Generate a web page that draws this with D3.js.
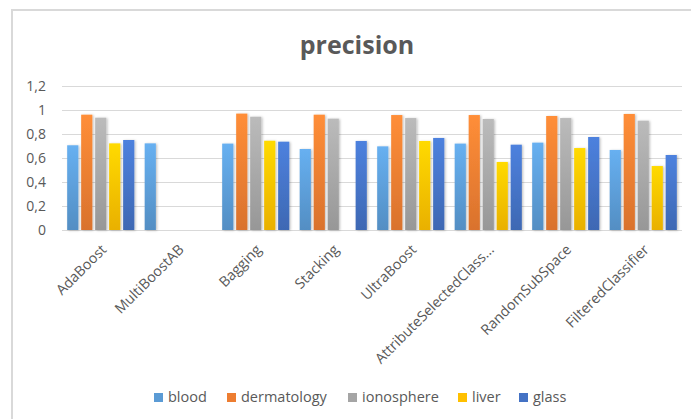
<!DOCTYPE html>
<html><head><meta charset="utf-8">
<script src="https://cdn.jsdelivr.net/npm/d3@7"></script>
<style>html,body{margin:0;padding:0;background:#fff;}svg{display:block;}</style>
</head><body><svg id="c" width="691" height="419"></svg>
<script>
const categories = ["AdaBoost","MultiBoostAB","Bagging","Stacking","UltraBoost","AttributeSelectedClass...","RandomSubSpace","FilteredClassifier"];
const seriesNames = ["blood","dermatology","ionosphere","liver","glass"];
const blood       = [0.706, 0.722, 0.720, 0.675, 0.697, 0.720, 0.728, 0.667];
const dermatology = [0.961, null,  0.970, 0.961, 0.958, 0.958, 0.950, 0.967];
const ionosphere  = [0.936, null,  0.944, 0.928, 0.933, 0.925, 0.933, 0.911];
const liver       = [0.722, null,  0.744, null,  0.742, 0.567, 0.683, 0.533];
const glass       = [0.750, null,  0.736, 0.742, 0.767, 0.711, 0.775, 0.625];
const seriesColors = ["#5B9BD5","#ED7D31","#A5A5A5","#FFC000","#4472C4"];
const yTicks = [0,0.2,0.4,0.6,0.8,1,1.2];
const titleText = "precision";

const values = [blood, dermatology, ionosphere, liver, glass];
const svg = d3.select("#c");
const font = "'Open Sans', sans-serif";
const txt = "#595959";

svg.append("line").attr("x1",11).attr("x2",691).attr("y1",10).attr("y2",10).attr("stroke","#d9d9d9").attr("stroke-width",2);
svg.append("line").attr("x1",12).attr("x2",12).attr("y1",9).attr("y2",419).attr("stroke","#d9d9d9").attr("stroke-width",2);

const defs = svg.append("defs");
seriesColors.forEach((c,i)=>{
  const g = defs.append("linearGradient").attr("id","g"+i).attr("x1",0).attr("y1",0).attr("x2",0).attr("y2",1);
  g.append("stop").attr("offset","0%").attr("stop-color", d3.color(c).brighter(0.35).formatHex());
  g.append("stop").attr("offset","100%").attr("stop-color", d3.color(c).darker(0.25).formatHex());
});
const f = defs.append("filter").attr("id","sh").attr("x","-20%").attr("y","-5%").attr("width","160%").attr("height","115%");
f.append("feDropShadow").attr("dx",1.2).attr("dy",0.5).attr("stdDeviation",0.9).attr("flood-color","#000").attr("flood-opacity",0.25);

const pLeft = 62, pRight = 682, pTop = 86, pBottom = 230;
const x0 = d3.scaleBand().domain(categories).range([pLeft,pRight]).paddingInner(0).paddingOuter(0);
const x1 = d3.scaleBand().domain(seriesNames).range([0,x0.bandwidth()]).paddingInner(0.2).paddingOuter(0.37);
const y = d3.scaleLinear().domain([0,1.2]).range([pBottom,pTop]);

svg.append("g").selectAll("line").data(yTicks).join("line")
  .attr("x1",pLeft).attr("x2",pRight)
  .attr("y1",d=>Math.round(y(d))+0.5).attr("y2",d=>Math.round(y(d))+0.5)
  .attr("stroke","#d9d9d9").attr("stroke-width",1);

const fmt = d=> String(d).replace(".",",");
svg.append("g").selectAll("text").data(yTicks).join("text")
  .attr("x",46).attr("y",d=>y(d)).attr("dy","0.35em")
  .attr("text-anchor","end").attr("fill",txt)
  .style("font-family",font).style("font-size","14px").text(fmt);

const groups = svg.append("g").selectAll("g").data(categories).join("g")
  .attr("transform",d=>`translate(${x0(d)},0)`);
groups.selectAll("rect").data((c,ci)=>seriesNames.map((s,si)=>({s,si,v:values[si][ci]})).filter(d=>d.v!=null))
  .join("rect")
  .attr("x",d=>x1(d.s)).attr("width",x1.bandwidth())
  .attr("y",d=>y(d.v)).attr("height",d=>y(0)-y(d.v))
  .attr("fill",d=>`url(#g${d.si})`).attr("filter","url(#sh)");

svg.append("g").selectAll("text").data(categories).join("text")
  .attr("transform",d=>`translate(${x0(d)+x0.bandwidth()/2+3},${pBottom+17}) rotate(-45)`)
  .attr("text-anchor","end").attr("dy","0.35em").attr("fill",txt)
  .style("font-family",font).style("font-size","14.3px").text(d=>d);

svg.append("text").attr("x",357).attr("y",54).attr("text-anchor","middle")
  .attr("fill",txt).style("font-family",font).style("font-size","25px").style("font-weight","bold").text(titleText);

const legendX = [154,227,348,458,519];
const lg = svg.append("g").selectAll("g").data(seriesNames).join("g")
  .attr("transform",(d,i)=>`translate(${legendX[i]},393)`);
lg.append("rect").attr("width",9).attr("height",9).attr("fill",(d,i)=>seriesColors[i]);
lg.append("text").attr("x",14).attr("y",9).attr("fill",txt)
  .style("font-family",font).style("font-size","14.5px").text(d=>d);
</script></body></html>
